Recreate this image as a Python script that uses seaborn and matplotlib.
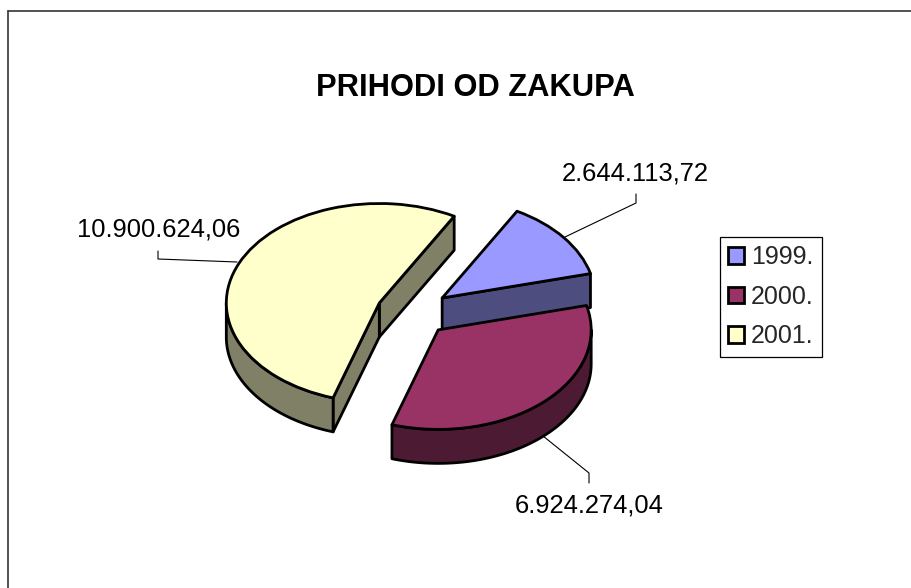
import numpy as np
import matplotlib
matplotlib.use("Agg")
import matplotlib.pyplot as plt
from matplotlib.patches import Patch, Polygon
import seaborn as sns

years = ["1999.", "2000.", "2001."]
values = [2644113.72, 6924274.04, 10900624.06]
value_labels = ["2.644.113,72", "6.924.274,04", "10.900.624,06"]
colors = ["#9999FF", "#993366", "#FFFFCC"]
title = "PRIHODI OD ZAKUPA"

W, H = 911, 588
RX, RY = 153.0, 99.5
CX, CY = 413.0, 312.5
DEPTH = 34 / RY
LW = 2.0

sns.set_theme(style="white", font="Liberation Sans")
plt.rcParams["font.family"] = ["Liberation Sans", "DejaVu Sans"]
palette = sns.color_palette(colors)
dark = [tuple(c * 0.5 for c in col) for col in palette]

fig = plt.figure(figsize=(W / 100, H / 100), dpi=100, facecolor="white")
ax = fig.add_axes([0, 0, 1, 1])
wedges, _ = ax.pie(values, colors=palette, startangle=60.7, counterclock=False,
                   explode=[0.24, 0.24, 0.24], radius=1,
                   wedgeprops=dict(edgecolor="black", linewidth=LW, joinstyle="round"))
ax.set_aspect("auto")
ax.set_xlim(-CX / RX, (W - CX) / RX)
ax.set_ylim(-(H - CY) / RY, CY / RY)
ax.set_frame_on(False)
ax.set_xticks([])
ax.set_yticks([])


def px(x, y):
    return (x - CX) / RX, (CY - y) / RY


def wall(w, color, z):
    c = np.array(w.center)
    t1, t2 = w.theta1, w.theta2
    if t1 < 0:
        t1, t2 = t1 + 360, t2 + 360
    kw = dict(closed=True, facecolor=color, edgecolor="black", linewidth=LW,
              joinstyle="round", zorder=z)
    for t, normal in ((t1, t1 - 90), (t2, t2 + 90)):
        if np.sin(np.radians(normal)) < 0:
            e = c + [np.cos(np.radians(t)), np.sin(np.radians(t))]
            ax.add_patch(Polygon([c, e, e - [0, DEPTH], c - [0, DEPTH]], **kw))
    # outer rim: the part of the arc that faces the viewer
    a, b = max(t1, 180), min(t2, 360)
    if b > a:
        th = np.radians(np.linspace(a, b, 120))
        top = np.c_[c[0] + np.cos(th), c[1] + np.sin(th)]
        ax.add_patch(Polygon(np.r_[top, (top - [0, DEPTH])[::-1]], **kw))


order = {0: 2, 1: 6, 2: 2}
for i, w in enumerate(wedges):
    wall(w, dark[i], order[i])
    w.set_zorder(order[i] + 1)

leaders = [
    [(565, 237), (636, 203), (636, 194)],
    [(543, 436), (589, 473), (589, 483)],
    [(237, 262), (158, 259), (158, 251)],
]
for pts in leaders:
    xy = np.array([px(*p) for p in pts])
    ax.plot(xy[:, 0], xy[:, 1], color="black", lw=0.8, zorder=1)

label_pos = [(635, 174), (589, 505), (159, 230)]
for s, (x, y) in zip(value_labels, label_pos):
    ax.text(*px(x, y), s, fontsize=18.4, color="black", ha="center", va="center")

ax.text(*px(475, 88), title, fontsize=22.2, fontweight="bold", color="black",
        ha="center", va="center")

handles = [Patch(facecolor=c, edgecolor="black", linewidth=LW) for c in palette]
leg = ax.legend(handles, years, loc="upper left", bbox_to_anchor=(720 / W, 1 - 237 / H),
                bbox_transform=fig.transFigure, fontsize=18, frameon=True, fancybox=False,
                edgecolor="black", framealpha=1, handlelength=0.62, handleheight=0.62,
                handletextpad=0.3, borderpad=0.33, labelspacing=0.62, borderaxespad=0)
leg.get_frame().set_linewidth(0.9)

x0 = px(8, 0)[0]
ax.plot([x0, x0], [px(0, 11)[1], px(0, H)[1]], color="#333333", lw=1.2, zorder=0)
ax.plot([x0, px(W, 0)[0]], [px(0, 11)[1], px(0, 11)[1]], color="#333333", lw=1.2, zorder=0)

fig.savefig("out.png", dpi=100, facecolor="white")
